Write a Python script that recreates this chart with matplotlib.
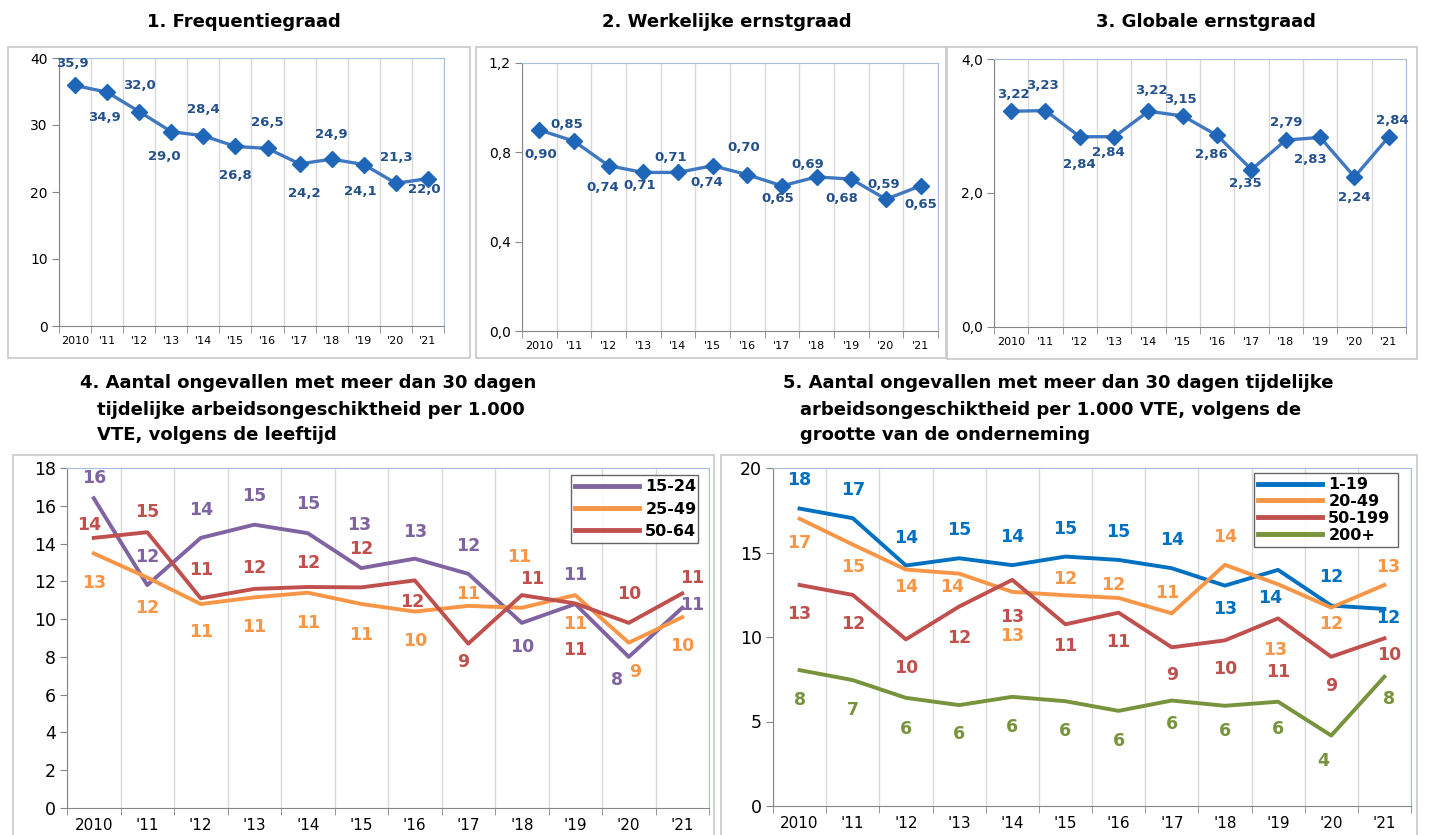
import matplotlib
matplotlib.use('Agg')
import matplotlib.pyplot as plt
from matplotlib.patches import Rectangle
from matplotlib.lines import Line2D

#================================================
# Data

years = ['2010', "'11", "'12", "'13", "'14", "'15", "'16", "'17", "'18", "'19", "'20", "'21"]

frequentiegraad = [35.9, 34.9, 32.0, 29.0, 28.4, 26.8, 26.5, 24.2, 24.9, 24.1, 21.3, 22.0]
werkelijke_ernst = [0.90, 0.85, 0.74, 0.71, 0.71, 0.74, 0.70, 0.65, 0.69, 0.68, 0.59, 0.65]
globale_ernst = [3.22, 3.23, 2.84, 2.84, 3.22, 3.15, 2.86, 2.35, 2.79, 2.83, 2.24, 2.84]

age_groups = ['15-24', '25-49', '50-64']
age_15_24 = [16.4, 11.8, 14.3, 15.0, 14.55, 12.7, 13.2, 12.4, 9.8, 10.8, 8.0, 10.6]
age_25_49 = [13.48, 12.2, 10.8, 11.15, 11.4, 10.8, 10.4, 10.7, 10.6, 11.27, 8.75, 10.1]
age_50_64 = [14.3, 14.6, 11.1, 11.6, 11.7, 11.68, 12.05, 8.7, 11.27, 10.83, 9.8, 11.36]

size_groups = ['1-19', '20-49', '50-199', '200+']
size_1_19 = [17.6, 17.03, 14.23, 14.66, 14.25, 14.76, 14.56, 14.07, 13.04, 13.97, 11.86, 11.66]
size_20_49 = [17.0, 15.47, 13.99, 13.75, 12.67, 12.47, 12.31, 11.4, 14.27, 13.12, 11.74, 13.08]
size_50_199 = [13.08, 12.49, 9.86, 11.8, 13.38, 10.75, 11.44, 9.39, 9.8, 11.1, 8.83, 9.92]
size_200 = [8.04, 7.45, 6.4, 5.97, 6.46, 6.2, 5.63, 6.24, 5.93, 6.17, 4.17, 7.65]

#================================================
# Label offsets in pixels (dx, dy) - as placed in the original chart

off_freq = [(-3, 22), (-3, -25), (0, 26), (-7, -25), (0, 26), (0, -29),
            (0, 26), (5, -30), (0, 25), (-3, -27), (0, 26), (-4, -11)]
off_werk = [(1, -25), (-7, 17), (-6, -22), (-4, -13), (-7, 15), (-6, -17),
            (-4, 27), (-4, -13), (-9, 12), (-10, -19), (-2, 15), (0, -19)]
off_glob = [(2, 17), (-3, 25), (0, -28), (-6, -16), (3, 21), (-2, 16),
            (-6, -19), (-6, -14), (0, 18), (-10, -22), (0, -21), (4, 16)]

off_age = [
    [(0, 20), (0, 28), (0, 28), (0, 29), (0, 29), (-2, 43), (0, 27), (0, 28), (0, -24), (0, 29), (-12, -23), (10, 3)],
    [(0, -30), (0, -30), (0, -28), (0, -30), (0, -30), (0, -31), (0, -29), (0, 12), (-3, 51), (0, -29), (6, -29), (0, -29)],
    [(-5, 13), (0, 20), (0, 28), (0, 21), (0, 24), (0, 38), (-3, -22), (-5, -18), (10, 16), (0, -47), (0, 29), (10, 15)],
]
off_size = [
    [(0, 29), (0, 28), (0, 28), (0, 28), (0, 28), (0, 28), (0, 28), (0, 28), (0, -23), (-8, -28), (0, 29), (4, -9)],
    [(0, -24), (0, -22), (0, -17), (-7, -13), (0, -44), (0, 16), (-5, 13), (-5, 20), (0, 28), (-3, -66), (0, -16), (4, 18)],
    [(0, -29), (0, -29), (0, -29), (0, -31), (0, -37), (0, -22), (0, -29), (0, -28), (0, -29), (0, -54), (0, -29), (5, -17)],
    [(0, -30), (0, -30), (0, -31), (0, -29), (0, -30), (0, -30), (0, -30), (0, -23), (0, -25), (0, -27), (-8, -25), (5, -22)],
]

#================================================
# Figure setup

W, H = 1429, 835
fig = plt.figure(figsize=(W / 100, H / 100), dpi=100)
fig.patch.set_facecolor('white')


def px_axes(left, top, right, bottom):
    return fig.add_axes([left / W, 1 - bottom / H, (right - left) / W, (bottom - top) / H])


def frame(left, top, right, bottom):
    fig.patches.append(Rectangle((left / W, 1 - bottom / H), (right - left) / W, (bottom - top) / H,
                                 transform=fig.transFigure, fill=False, edgecolor='#C8C8C8', lw=1.2))


def style_axes(ax, ylim, yticks, yfmt, tick_fs, xtick_fs):
    n = len(years)
    ax.set_xlim(-0.5, n - 0.5)
    ax.set_ylim(*ylim)
    ax.set_xticks(range(n))
    ax.set_xticklabels(years, fontsize=xtick_fs)
    ax.set_xticks([i - 0.5 for i in range(n + 1)], minor=True)
    ax.tick_params(axis='x', which='major', length=0, pad=7)
    ax.tick_params(axis='x', which='minor', length=5, color='#868686', direction='out')
    ax.set_yticks(yticks)
    ax.set_yticklabels([yfmt(v) for v in yticks], fontsize=tick_fs)
    ax.tick_params(axis='y', length=5, color='#868686', direction='out', pad=3)
    ax.grid(axis='x', which='minor', color='#D9D9D9', lw=1)
    ax.set_axisbelow(True)
    for s in ['left', 'bottom']:
        ax.spines[s].set_color('#868686')
    for s in ['top', 'right']:
        ax.spines[s].set_color('#A7BFDE')


#================================================
# Top charts

top_panels = [
    ('1. Frequentiegraad', frequentiegraad, off_freq, (0, 40), [0, 10, 20, 30, 40],
     lambda v: '%d' % v, lambda v: ('%.1f' % v).replace('.', ','),
     (59, 58, 444, 326), (8, 47, 470, 358), 244),
    ('2. Werkelijke ernstgraad', werkelijke_ernst, off_werk, (0, 1.2), [0, 0.4, 0.8, 1.2],
     lambda v: ('%.1f' % v).replace('.', ','), lambda v: ('%.2f' % v).replace('.', ','),
     (522, 63, 938, 331), (476, 47, 946, 358), 727),
    ('3. Globale ernstgraad', globale_ernst, off_glob, (0, 4), [0, 2, 4],
     lambda v: ('%.1f' % v).replace('.', ','), lambda v: ('%.2f' % v).replace('.', ','),
     (994, 59, 1406, 327), (947, 47, 1417, 359), 1206),
]

for title, vals, offs, ylim, yticks, yfmt, lfmt, box, fbox, tx in top_panels:
    frame(*fbox)
    ax = px_axes(*box)
    style_axes(ax, ylim, yticks, yfmt, 10, 8)
    x = range(len(vals))
    ax.plot(x, vals, color='#3F78C0', lw=2.4, marker='D', markersize=8,
            markerfacecolor='#1F66B8', markeredgecolor='#1F66B8', zorder=3)
    for i, v in enumerate(vals):
        ax.annotate(lfmt(v), (i, v), xytext=offs[i], textcoords='offset pixels',
                    ha='center', va='center', fontsize=9.5, fontweight='bold',
                    color='#24508C', zorder=4)
    fig.text(tx / W, 1 - 22 / H, title, ha='center', va='center',
             fontsize=13, fontweight='bold')

#================================================
# Bottom charts

bottom_panels = [
    (['4. Aantal ongevallen met meer dan 30 dagen',
      'tijdelijke arbeidsongeschiktheid per 1.000',
      'VTE, volgens de leeftijd'], (80, 97),
     age_groups, [age_15_24, age_25_49, age_50_64], off_age,
     ['#8064A2', '#F79646', '#C0504D'], (0, 18), list(range(0, 19, 2)),
     (67, 468, 709, 808), (13, 455, 714, 840), (563, 472, 706, 546)),
    (['5. Aantal ongevallen met meer dan 30 dagen tijdelijke',
      'arbeidsongeschiktheid per 1.000 VTE, volgens de',
      'grootte van de onderneming'], (783, 800),
     size_groups, [size_1_19, size_20_49, size_50_199, size_200], off_size,
     ['#0070C0', '#F79646', '#C0504D', '#77933C'], (0, 20), [0, 5, 10, 15, 20],
     (773, 468, 1411, 806), (721, 455, 1417, 840), (1246, 472, 1406, 548)),
]

for lines, (x1, x2), groups, series, offs, colors, ylim, yticks, box, fbox, lbox in bottom_panels:
    frame(*fbox)
    for k, (line, y) in enumerate(zip(lines, [383, 410, 435])):
        fig.text((x1 if k == 0 else x2) / W, 1 - y / H, line, ha='left', va='center',
                 fontsize=13, fontweight='bold')
    ax = px_axes(*box)
    style_axes(ax, ylim, yticks, lambda v: '%d' % v, 12.5, 11)
    handles = []
    for vals, col, off, name in zip(series, colors, offs, groups):
        ax.plot(range(len(vals)), vals, color=col, lw=2.8, zorder=3)
        for i, v in enumerate(vals):
            ax.annotate('%.0f' % v, (i, v), xytext=off[i], textcoords='offset pixels',
                        ha='center', va='center', fontsize=12.5, fontweight='bold',
                        color=col, zorder=4)
        handles.append(Line2D([0], [0], color=col, lw=3.5, label=name))
    # legend placed in figure coordinates
    lax = px_axes(*lbox)
    lax.axis('off')
    spacing = 0.45 if len(groups) == 3 else 0.12
    leg = lax.legend(handles=handles, loc='center', frameon=True, fancybox=False,
                     handlelength=4.0, handletextpad=0.4, labelspacing=spacing,
                     borderpad=0.25, prop={'weight': 'bold', 'size': 11.5},
                     bbox_to_anchor=(0, 0, 1, 1), mode='expand')
    leg.get_frame().set_edgecolor('#404040')
    leg.get_frame().set_linewidth(1)

fig.savefig('out.png', dpi=100, facecolor='white')
